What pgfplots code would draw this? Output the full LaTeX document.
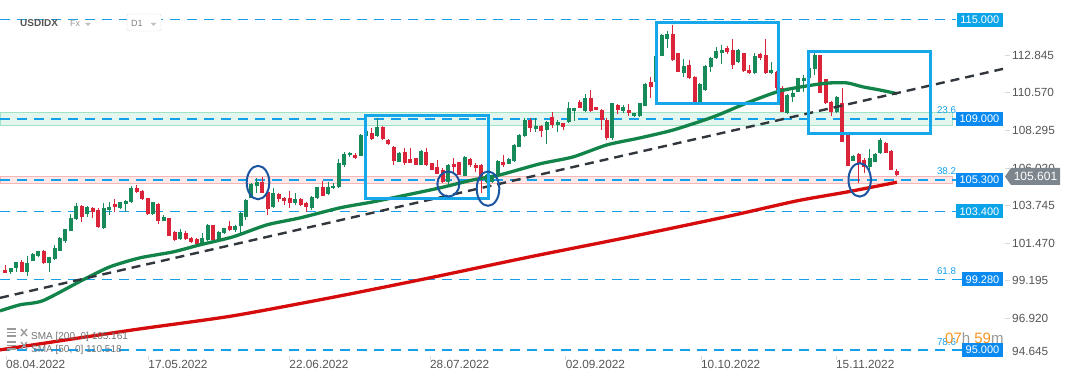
\documentclass[border=0pt]{standalone}
\usepackage{pgfplots}
\pgfplotsset{compat=1.18}
\usepackage{pgfplotstable}
\usepackage{fontspec}
\setmainfont{Liberation Sans}
\definecolor{upc}{RGB}{22,138,88}
\definecolor{dnc}{RGB}{218,36,58}
\definecolor{sma50}{RGB}{18,132,74}
\definecolor{sma200}{RGB}{214,12,12}
\definecolor{lvl}{RGB}{20,160,235}
\definecolor{lvlbox}{RGB}{10,138,240}
\definecolor{lvlbox2}{RGB}{12,164,232}
\definecolor{boxc}{RGB}{22,166,234}
\definecolor{ellc}{RGB}{25,85,160}
\definecolor{trend}{RGB}{50,55,62}
\definecolor{lbl}{RGB}{85,85,85}
\definecolor{gband}{RGB}{228,247,239}
\definecolor{gbandb}{RGB}{160,226,196}
\definecolor{rband}{RGB}{253,233,233}
\definecolor{rbandb}{RGB}{246,182,182}
\definecolor{pricebox}{RGB}{125,134,140}
\definecolor{cdorange}{RGB}{247,148,30}
\tikzset{
  lvline/.style={draw=lvl, line width=1.5pt, dash pattern=on 10pt off 7pt},
  lvlabel/.style={text=white, anchor=east, inner xsep=3.5pt, inner ysep=0pt, minimum height=14pt, font=\fontsize{11}{13}\selectfont},
  fib/.style={anchor=base west, inner sep=0pt, text=lvl, font=\fontsize{9.8}{12}\selectfont},
}
\pgfplotsset{
  candle/.style 2 args={draw=none, mark=none, forget plot,
    error bars/.cd, y dir=minus, y explicit, error mark=none,
    error bar style={draw=#1, line width=#2, solid}},
}

\pgfplotstableread{
x o h l c
1 99.72 99.96 99.60 99.96
2 99.96 100.32 99.72 100.32
4 99.75 100.72 99.51 100.26
5 100.42 100.85 100.38 100.80
6 100.72 101.02 100.66 101.00
8 100.24 100.66 99.75 100.62
9 100.52 101.33 100.46 101.17
10 101.02 101.82 100.98 101.77
11 101.61 102.35 101.51 102.32
12 102.23 103.22 102.20 103.02
13 102.92 103.93 102.90 103.73
15 103.22 103.73 103.08 103.65
18 102.41 103.89 102.34 103.59
19 103.50 103.99 103.18 103.67
21 103.62 103.98 103.53 103.95
22 103.87 104.11 103.38 104.05
23 103.99 104.96 103.89 104.80
27 103.24 103.98 103.18 103.95
29 102.84 103.18 102.82 103.08
32 101.71 102.32 101.67 102.17
36 101.47 102.11 101.43 101.81
37 101.67 102.64 101.63 102.54
39 101.67 102.23 101.63 102.14
40 102.08 102.41 102.05 102.38
42 102.28 102.58 102.14 102.52
43 102.48 103.35 102.11 103.29
44 103.08 104.13 102.88 104.09
45 104.23 105.10 104.20 105.06
46 104.94 105.40 104.50 105.20
49 103.65 104.80 103.59 104.50
53 103.93 104.50 103.79 104.13
56 103.59 104.33 103.49 104.25
57 104.19 104.90 104.13 104.86
59 104.44 105.20 104.39 104.86
60 104.80 105.10 104.76 104.96
61 104.89 106.55 104.80 106.31
62 106.21 107.01 106.11 106.87
63 106.81 107.01 106.71 106.95
65 106.75 108.05 106.72 108.02
66 107.96 108.33 107.90 108.26
68 107.98 109.03 107.92 108.52
72 106.41 106.98 106.38 106.95
76 106.21 107.10 106.18 107.07
81 105.20 106.24 105.00 106.21
84 105.56 106.75 105.53 106.71
88 105.20 105.66 105.12 105.60
89 105.16 105.60 105.12 105.50
90 105.60 106.51 105.57 106.45
92 106.27 106.61 106.24 106.57
93 106.45 107.45 106.39 107.42
94 107.31 108.05 107.28 108.02
95 107.98 109.03 107.92 108.93
97 108.39 109.03 108.22 108.59
99 108.33 108.87 107.48 108.79
101 108.63 108.93 108.22 108.79
103 108.79 110.00 108.73 109.64
104 109.47 109.67 108.87 109.64
106 109.49 110.48 109.43 110.24
111 107.84 109.96 107.72 109.94
113 109.49 109.84 109.34 109.70
115 109.17 109.37 109.13 109.34
116 109.17 109.97 109.13 109.94
117 109.80 111.14 109.77 111.11
119 111.23 112.86 111.17 112.80
120 112.82 114.13 112.80 114.07
121 113.81 114.33 113.27 114.13
124 111.76 112.60 111.55 112.20
127 109.98 111.14 109.95 111.11
128 110.75 112.26 110.68 112.20
129 112.12 112.76 111.85 112.66
130 112.66 113.33 112.60 113.12
131 112.97 113.47 112.32 113.17
134 112.42 113.23 112.36 113.17
137 111.76 112.97 111.71 112.80
140 111.76 112.42 111.71 111.96
143 109.34 110.47 109.31 110.44
144 110.34 110.75 110.04 110.55
145 110.64 111.48 110.61 111.45
146 111.31 111.65 110.64 111.45
147 111.47 112.20 111.41 112.08
148 112.00 112.97 111.65 112.86
152 109.43 110.37 109.37 110.34
155 106.47 106.78 106.45 106.75
158 106.11 107.16 105.91 106.61
159 106.41 106.90 106.39 106.87
160 106.92 107.82 106.87 107.72
}\upcandles

\pgfplotstableread{
x o h l c
0 99.86 100.16 99.69 99.69
3 100.32 100.46 99.75 99.75
7 101.00 101.04 100.20 100.24
14 103.73 103.76 102.78 103.08
16 103.59 103.65 103.02 103.38
17 103.49 103.62 102.41 102.44
20 103.85 104.15 103.35 103.68
24 104.80 105.00 104.50 104.56
25 104.63 104.70 104.10 104.13
26 104.19 104.22 103.19 103.22
28 103.85 103.89 102.64 102.84
30 102.98 103.00 101.91 101.93
31 102.17 102.23 101.63 101.67
33 102.08 102.23 101.67 101.71
34 101.77 101.87 101.47 101.57
35 101.73 101.77 101.26 101.41
38 102.54 102.57 101.63 101.67
41 102.48 102.82 102.23 102.28
47 105.20 105.46 104.50 104.53
48 104.59 104.62 103.18 103.53
50 104.44 104.50 103.99 104.13
51 104.19 104.29 103.79 104.05
52 104.19 104.65 103.59 103.89
54 104.13 104.19 103.73 103.79
55 103.89 103.99 103.38 103.65
58 104.86 105.26 104.33 104.35
64 106.81 106.92 106.55 106.61
67 108.13 108.43 107.72 107.76
69 108.52 108.57 107.72 107.76
70 107.72 107.75 107.43 107.46
71 107.31 107.33 106.21 106.47
73 107.01 107.22 106.21 106.31
74 106.55 107.25 106.31 106.35
75 106.61 106.64 106.18 106.21
77 107.01 107.22 106.17 106.21
78 106.31 106.34 105.88 105.91
79 106.11 106.51 105.63 105.66
80 105.91 106.01 105.10 105.20
82 106.27 106.61 105.80 106.11
83 106.37 106.40 105.57 105.60
85 106.57 106.65 106.11 106.21
86 106.21 106.31 105.80 106.04
87 106.21 106.25 104.50 105.50
91 106.41 106.81 106.11 106.21
96 108.93 109.07 108.22 108.43
98 108.59 108.63 107.92 108.26
100 109.13 109.40 108.43 108.63
102 108.73 108.77 108.33 108.52
105 110.04 110.14 109.64 109.67
107 110.28 110.75 109.43 109.47
108 109.70 109.73 109.51 109.54
109 109.54 109.57 108.33 108.93
110 108.93 109.05 107.72 107.82
112 109.84 109.88 109.29 109.54
114 109.54 109.90 109.17 109.37
118 111.25 111.55 110.24 110.94
122 114.13 114.68 112.52 112.56
123 112.97 113.00 111.82 111.85
125 112.26 112.56 111.41 111.45
126 111.55 111.58 109.95 109.98
132 113.27 113.41 112.91 113.06
133 113.17 113.81 112.00 112.26
135 112.97 113.00 111.85 111.89
136 111.96 112.26 111.71 111.76
138 112.92 113.00 112.56 112.66
139 112.86 113.81 111.71 111.76
141 111.85 111.89 110.75 110.87
142 110.85 110.99 109.40 109.43
149 112.86 112.89 110.55 110.58
150 111.39 111.42 109.91 109.94
151 110.04 110.10 109.17 109.43
153 109.94 110.85 107.59 107.62
154 108.02 108.05 106.12 106.15
156 106.87 106.90 105.14 106.27
157 106.51 106.61 105.71 106.11
161 107.56 107.59 106.93 106.95
162 107.07 107.10 105.88 105.91
163 105.85 105.95 105.55 105.60
}\downcandles

\begin{document}
\begin{tikzpicture}
\path[use as bounding box] (0pt,-26pt) rectangle (1072pt,356pt);
\begin{axis}[
  at={(0pt,0pt)}, anchor=south west, scale only axis,
  width=950pt, height=356pt,
  xmin=-0.969, xmax=172.71, ymin=94.64, ymax=116.19,
  clip=false,
  axis x line*=bottom, axis y line*=right, axis line style={draw=none},
  major tick length=0pt, tick style={draw=none},
  xtick={0.13,26.14,51.92,77.64,102.45,127.18,151.86},
  xticklabels={08.04.2022,17.05.2022,22.06.2022,28.07.2022,02.09.2022,10.10.2022,15.11.2022},
  xticklabel style={anchor=north west, inner sep=0pt, yshift=-4pt, font=\fontsize{11.8}{14}\selectfont, text=lbl},
  ytick={112.845,110.570,108.295,106.020,103.745,101.470,99.195,96.920},
  yticklabels={112.845,110.570,108.295,106.020,103.745,101.470,99.195,96.920},
  yticklabel style={anchor=west, inner sep=0pt, xshift=62pt, font=\fontsize{11.8}{14}\selectfont, text=lbl},
  extra y ticks={94.645}, extra y tick labels={94.645},
  extra y tick style={yticklabel style={yshift=4.3pt}},
]
% zones
\draw[gbandb, fill=gband, line width=1pt] (axis cs:-0.969,108.57) rectangle (axis cs:173.25,109.35);
\draw[rbandb, fill=rband, line width=1pt] (axis cs:-0.969,105.06) rectangle (axis cs:173.25,105.51);
% levels
\draw[lvline] (axis cs:-0.969,115) -- (axis cs:173.8,115);
\draw[lvline] (axis cs:-0.969,109) -- (axis cs:173.8,109);
\draw[lvline] (axis cs:-0.969,105.3) -- (axis cs:173.8,105.3);
\draw[lvline] (axis cs:-0.969,103.4) -- (axis cs:173.8,103.4);
\draw[lvline] (axis cs:-0.969,99.28) -- (axis cs:174.9,99.28);
\draw[lvline] (axis cs:-0.969,95) -- (axis cs:174.9,95);
% candles: wicks
\addplot[candle={upc}{1pt}] table[x=x, y=h, y error expr=\thisrow{h}-\thisrow{l}] {\upcandles};
\addplot[candle={dnc}{1pt}] table[x=x, y=h, y error expr=\thisrow{h}-\thisrow{l}] {\downcandles};
% candles: bodies
\addplot[candle={upc}{4pt}] table[x=x, y=c, y error expr=\thisrow{c}-\thisrow{o}] {\upcandles};
\addplot[candle={dnc}{4pt}] table[x=x, y=o, y error expr=\thisrow{o}-\thisrow{c}] {\downcandles};
% SMA 200
\addplot[sma200, line width=3.3pt, smooth, tension=0.4] coordinates {
(-0.969,95.01) (23.35,96.22) (41.6,97.07) (60.3,98.22) (77.6,99.37) (95.9,100.64)
(114.2,101.85) (132.5,103.12) (144.7,104.03) (153.9,104.57) (163,105.16)};
% SMA 50
\addplot[sma50, line width=3.3pt, smooth, tension=0.4] coordinates {
(-0.969,97.37) (2.69,97.74) (6.89,97.99) (14.2,99.25) (19.14,100.04) (24.6,100.58)
(30.66,100.94) (35.6,101.37) (41.6,101.85) (47.84,102.58) (53.9,103.00) (61.2,103.61)
(67.2,103.97) (73.4,104.39) (79.5,104.82) (85.5,105.30) (90.4,105.60) (97.7,106.27)
(103.8,106.69) (110.0,107.42) (116.0,107.84) (122.1,108.32) (129.4,109.11) (135.6,109.96)
(141.6,110.68) (147.7,111.05) (150.8,111.17) (153.9,111.17) (156.8,110.93) (159.9,110.74)
(163,110.52)};
% trend line
\addplot[trend, line width=2.4pt, dash pattern=on 9pt off 6pt] coordinates {(-0.969,98.16) (182.4,112.02)};
% boxes
\draw[boxc, line width=3pt] (axis cs:65.94,104.19) rectangle (axis cs:88.3,109.17);
\draw[boxc, line width=3pt] (axis cs:118.96,109.90) rectangle (axis cs:141.3,114.82);
\draw[boxc, line width=3pt] (axis cs:146.8,108.13) rectangle (axis cs:169.2,113.06);
% ellipses
\draw[ellc, line width=2pt] (axis cs:46.2,105.14) ellipse [x radius=11.3pt, y radius=16.7pt];
\draw[ellc, line width=2pt] (axis cs:81.0,105.05) ellipse [x radius=11pt, y radius=12.5pt];
\draw[ellc, line width=2pt] (axis cs:88.25,104.77) ellipse [x radius=11.3pt, y radius=17.2pt];
\draw[ellc, line width=2pt] (axis cs:156.2,105.30) ellipse [x radius=11.2pt, y radius=16.7pt];
% fib labels
\node[fib] at (axis cs:170.3,109.29) {23.6};
\node[fib] at (axis cs:170.3,105.60) {38.2};
\node[fib] at (axis cs:170.3,99.60) {61.8};
\node[fib] at (axis cs:170.3,95.28) {78.6};
% level labels
\node[lvlabel, fill=lvlbox2] at (axis cs:182.4,115) {115.000};
\node[lvlabel, fill=lvlbox] at (axis cs:182.4,109) {109.000};
\node[lvlabel, fill=lvlbox] at (axis cs:182.4,105.3) {105.300};
\node[lvlabel, fill=lvlbox2] at (axis cs:182.4,103.4) {103.400};
\node[lvlabel, fill=lvlbox] at (axis cs:182.4,99.28) {99.280};
\node[lvlabel, fill=lvlbox] at (axis cs:182.4,95) {95.000};
% small tick marks
\pgfplotsinvokeforeach{112.845,110.570,108.295,106.020,103.745,101.470,99.195,96.920}{
  \draw[black!15, line width=0.8pt] (axis cs:182.76,#1) -- ++(5pt,0pt);}
\pgfplotsinvokeforeach{0.13,26.14,51.92,77.64,102.45,127.18,151.86}{
  \draw[black!15, line width=0.8pt] (axis cs:#1,94.64) -- ++(0pt,-4pt);}
\end{axis}
% header
\node[anchor=base west, inner sep=0pt, font=\bfseries\fontsize{10}{12}\selectfont, text=lbl] at (20pt,329pt) {USDIDX};
\node[anchor=base west, inner sep=0pt, font=\fontsize{9}{11}\selectfont, text=black!40] at (70pt,329pt) {Fx};
\fill[black!25] (85pt,333pt) -- (91pt,333pt) -- (88pt,330pt) -- cycle;
\draw[black!15, fill=white, rounded corners=2pt] (127pt,342pt) rectangle (161pt,325pt);
\node[anchor=base west, inner sep=0pt, font=\fontsize{9}{11}\selectfont, text=black!50] at (131pt,329pt) {D1};
\fill[black!25] (150.5pt,333pt) -- (156.5pt,333pt) -- (153.5pt,330pt) -- cycle;
% legend
\foreach \dy in {0,13} {
  \draw[black!40, line width=1.2pt] (7pt,27pt-\dy pt) -- (16pt,27pt-\dy pt);
  \draw[black!40, line width=1.2pt] (7pt,23.5pt-\dy pt) -- (16pt,23.5pt-\dy pt);
  \draw[black!40, line width=1.2pt] (7pt,20pt-\dy pt) -- (16pt,20pt-\dy pt);
  \draw[black!40, line width=1.4pt] (21pt,27pt-\dy pt) -- (27pt,20pt-\dy pt);
  \draw[black!40, line width=1.4pt] (21pt,20pt-\dy pt) -- (27pt,27pt-\dy pt);
}
\node[anchor=base west, inner sep=0pt, font=\fontsize{10}{12}\selectfont, text=black!55] at (31pt,16pt) {SMA [200, 0] 105.161};
\node[anchor=base west, inner sep=0pt, font=\fontsize{10}{12}\selectfont, text=black!55] at (31pt,3pt) {SMA [50, 0] 110.518};
% countdown
\node[anchor=base west, inner sep=0pt, font=\fontsize{15}{18}\selectfont] at (945pt,12.7pt) {\textcolor{cdorange}{07}\textcolor{black!40}{h} \textcolor{cdorange}{59}\textcolor{black!40}{m}};
% price tag
\fill[pricebox] (1005pt,179.5pt) -- (1011pt,188pt) -- (1060pt,188pt) -- (1060pt,171pt) -- (1011pt,171pt) -- cycle;
\node[text=white, inner sep=0pt, font=\fontsize{12}{14}\selectfont] at (1035.5pt,179.5pt) {105.601};
\end{tikzpicture}
\end{document}
